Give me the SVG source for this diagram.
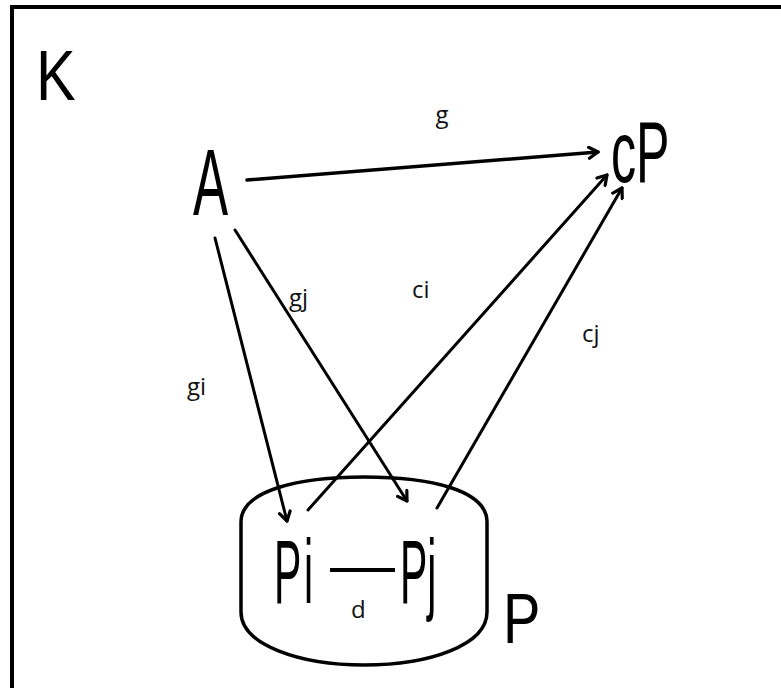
<svg xmlns="http://www.w3.org/2000/svg" width="781" height="688" viewBox="0 0 781 688">
<defs>
<style>
.big{font-family:"Liberation Sans",Arial,sans-serif;fill:#000}
.lbl{font-family:"Open Sans","Noto Sans",sans-serif;font-size:24px;fill:#111}
.edge{stroke:#000;stroke-width:3;fill:none;stroke-linecap:round}
.shape{stroke:#000;stroke-width:3.5;fill:#fff}
</style>
<marker id="ah" viewBox="-11 -7 13 14" refX="0" refY="0" markerWidth="13" markerHeight="14" markerUnits="userSpaceOnUse" orient="auto">
<path d="M-9,-5.5 L0,0 L-9,5.5" fill="none" stroke="#000" stroke-width="3.2" stroke-linecap="round" stroke-linejoin="round"/>
</marker>
</defs>
<rect x="0" y="0" width="781" height="688" fill="#fff"/>
<rect id="frame" x="12" y="7" width="820" height="720" fill="none" stroke="#000" stroke-width="4"/>
<g id="K"><text class="big" font-size="70" transform="translate(36,100) scale(0.85,1)">K</text></g>
<g id="P-set">
<path class="shape" d="M241,522 C241,490 300,477 364,477 C430,477 487,490 487,522 L487,612 C487,645 430,665 364,665 C300,665 241,645 241,612 Z"/>
<text class="big" font-size="70" transform="translate(503,643) scale(0.8,1)">P</text>
</g>
<g id="A"><text class="big" font-size="94" transform="translate(193,215) scale(0.56,1)">A</text></g>
<g id="cP"><text class="big" font-size="88" transform="translate(611,182) scale(0.57,1)">cP</text></g>
<g id="Pi"><text class="big" font-size="91" letter-spacing="6" transform="translate(274,603) scale(0.45,1)">Pi</text></g>
<g id="Pj"><text class="big" font-size="91" transform="translate(400,603) scale(0.45,1)">Pj</text></g>
<g id="connectors">
<line class="edge" style="stroke-width:3.5" x1="247" y1="180" x2="598" y2="152" marker-end="url(#ah)"/>
<line class="edge" x1="215" y1="238" x2="287" y2="521" marker-end="url(#ah)"/>
<line class="edge" x1="235" y1="230" x2="407" y2="501" marker-end="url(#ah)"/>
<line class="edge" x1="308" y1="510" x2="607" y2="175" marker-end="url(#ah)"/>
<line class="edge" x1="437" y1="508" x2="622" y2="188" marker-end="url(#ah)"/>
<line class="edge" style="stroke-width:4;stroke-linecap:butt" x1="330" y1="570" x2="395" y2="570"/>
<text class="lbl" x="442" y="123" text-anchor="middle">g</text>
<text class="lbl" x="187" y="395">gi</text>
<text class="lbl" x="289" y="306">gj</text>
<text class="lbl" x="412" y="298">ci</text>
<text class="lbl" x="582" y="342">cj</text>
<text class="lbl" x="351" y="618">d</text>
</g>
</svg>
